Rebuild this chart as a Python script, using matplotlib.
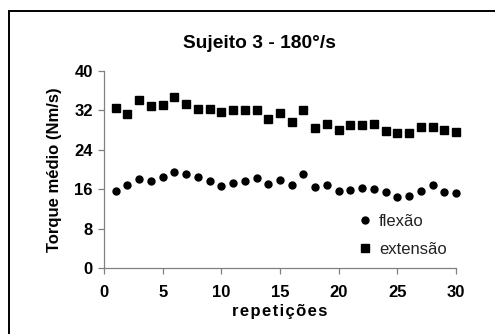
import matplotlib
matplotlib.use("Agg")
import matplotlib.pyplot as plt
from matplotlib.patches import Rectangle

plt.rcParams['font.family'] = ['Liberation Sans', 'DejaVu Sans']

repeticoes = list(range(1, 31))
flexao = [15.7, 16.8, 18.1, 17.8, 18.6, 19.6, 19.2, 18.6, 17.6, 16.6,
          17.3, 17.8, 18.3, 17.1, 18.0, 16.8, 19.1, 16.5, 16.8, 15.7,
          15.9, 16.3, 16.1, 15.5, 14.5, 14.7, 15.7, 16.8, 15.5, 15.3]
extensao = [32.6, 31.3, 34.1, 33.0, 33.2, 34.7, 33.3, 32.3, 32.3, 31.6,
            32.1, 32.1, 32.1, 30.3, 31.5, 29.7, 32.0, 28.5, 29.3, 28.0,
            29.0, 29.0, 29.2, 27.8, 27.5, 27.5, 28.7, 28.7, 28.0, 27.6]
x_ticks = [0, 5, 10, 15, 20, 25, 30]
y_ticks = [0, 8, 16, 24, 32, 40]

W, H = 495, 334
fig = plt.figure(figsize=(W / 100, H / 100), dpi=100)
fig.patch.set_facecolor('white')

# outer frame
fig.add_artist(Rectangle((8.5 / W, -0.1), 1.2, 1.1 - 11 / H,
                         transform=fig.transFigure, fill=False,
                         edgecolor='black', linewidth=1.4))

ax = fig.add_axes([104 / W, 1 - 268.3 / H, (456 - 104) / W, (268.3 - 71) / H])
ax.plot(repeticoes, flexao, linestyle='none', marker='o', markersize=5.0,
        color='black', label='flexão', clip_on=False)
ax.plot(repeticoes, extensao, linestyle='none', marker='s', markersize=5.4,
        color='black', label='extensão', clip_on=False)

ax.set_xlim(0, 30)
ax.set_ylim(0, 40)
ax.set_xticks(x_ticks)
ax.set_yticks(y_ticks)
for s in ['top', 'right']:
    ax.spines[s].set_visible(False)
for s in ['left', 'bottom']:
    ax.spines[s].set_color('#808080')
    ax.spines[s].set_linewidth(0.9)
ax.tick_params(axis='both', direction='out', length=4, width=0.9,
               color='#808080', labelsize=12, pad=4)
for lbl in ax.get_xticklabels() + ax.get_yticklabels():
    lbl.set_fontweight('bold')
ax.tick_params(axis='x', pad=8)

ax.set_xlabel('r e p e t i ç õ e s'.replace(' ', '\u200a'), fontsize=12,
              fontweight='bold', labelpad=3)
ax.set_ylabel('Torque médio (Nm/s)', fontsize=12, fontweight='bold', labelpad=9)

fig.text(259 / W, 1 - 44 / H, 'Sujeito 3 - 180°/s', ha='center', va='center',
         fontsize=13.8, fontweight='bold')

leg = ax.legend(loc='upper left', bbox_to_anchor=(359 / W, 1 - 214 / H),
                bbox_transform=fig.transFigure, frameon=False, fontsize=12,
                handlelength=0.7, handletextpad=0.5, labelspacing=0.75,
                borderpad=0, borderaxespad=0, markerscale=1.0)
for t in leg.get_texts():
    t.set_color('#222222')

fig.savefig('out.png', dpi=100)
